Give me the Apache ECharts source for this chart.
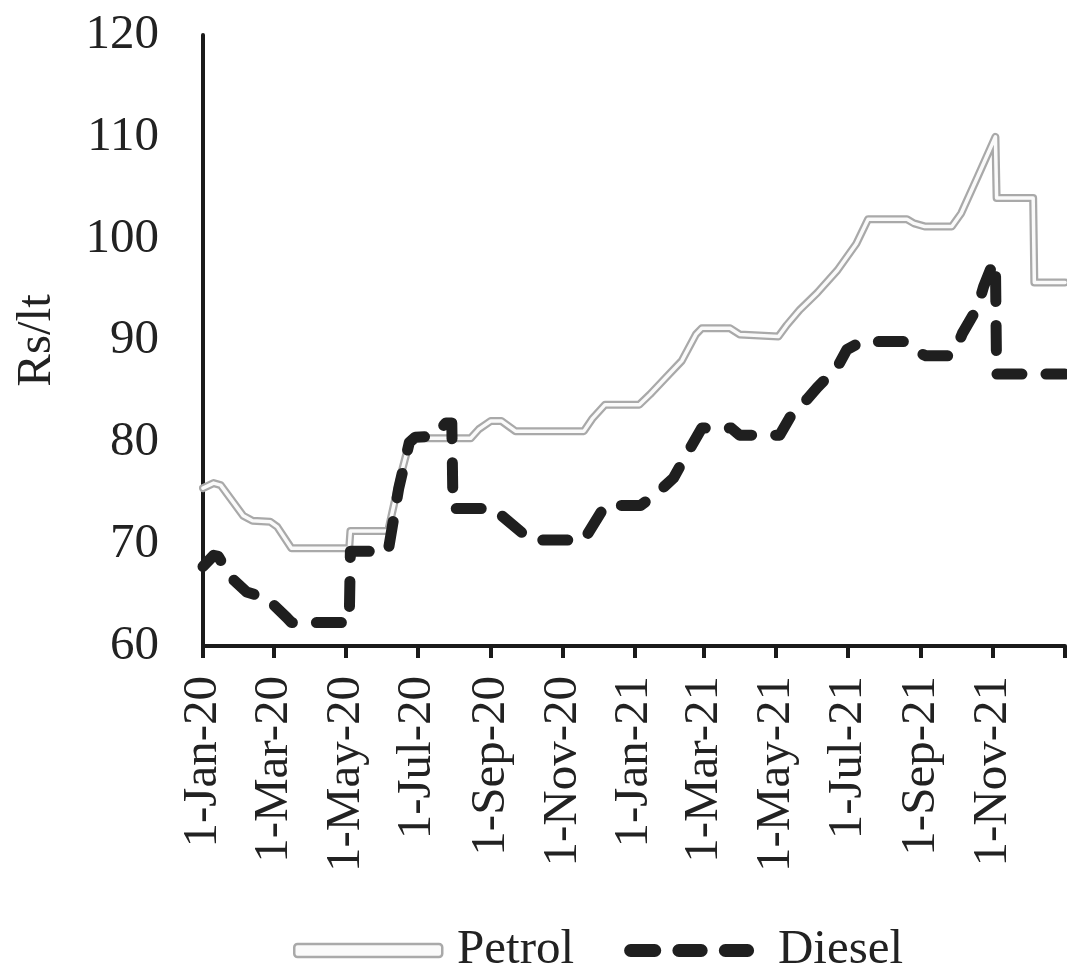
<!DOCTYPE html>
<html>
<head>
<meta charset="utf-8">
<title>Petrol and Diesel Prices</title>
<script src="https://cdn.jsdelivr.net/npm/echarts@6/dist/echarts.min.js"></script>
<style>
  html, body { margin: 0; padding: 0; background: #ffffff; }
  #chart { width: 1067px; height: 967px; }
</style>
</head>
<body>
<div id="chart"></div>
<script>
// Retail prices, Rs per litre
const petrolDates = ['2020-01-01','2020-01-10','2020-01-16','2020-02-04','2020-02-12','2020-02-27','2020-03-04','2020-03-16',
  '2020-05-04','2020-05-05','2020-06-06','2020-06-15','2020-06-24','2020-06-29','2020-08-15','2020-08-22','2020-09-01',
  '2020-09-10','2020-09-22','2020-11-19','2020-11-26','2020-12-07','2021-01-05','2021-01-14','2021-01-27','2021-02-10',
  '2021-02-22','2021-02-27','2021-03-23','2021-03-31','2021-05-03','2021-05-10','2021-05-21','2021-06-05','2021-06-22',
  '2021-07-08','2021-07-18','2021-08-20','2021-08-26','2021-09-04','2021-09-27','2021-10-05','2021-10-19','2021-11-03',
  '2021-11-04','2021-12-05','2021-12-06','2022-01-01'];
const petrolPrices = [75.5,76.0,75.8,72.8,72.3,72.2,71.7,69.6,
  69.6,71.3,71.3,76.0,80.0,80.4,80.4,81.3,82.1,
  82.1,81.1,81.1,82.3,83.7,83.7,84.7,86.3,88.0,
  90.6,91.2,91.2,90.6,90.4,91.5,93.0,94.7,96.9,
  99.5,101.9,101.9,101.5,101.2,101.2,102.5,106.1,110.0,
  104.0,104.0,95.7,95.7];

const dieselDates = ['2020-01-01','2020-01-10','2020-01-14','2020-01-24','2020-02-07','2020-02-24','2020-03-12','2020-03-16',
  '2020-05-04','2020-05-05','2020-06-06','2020-06-15','2020-06-24','2020-06-29','2020-07-15','2020-07-25','2020-07-30',
  '2020-07-31','2020-09-03','2020-10-05','2020-11-19','2020-12-07','2021-01-06','2021-01-20','2021-02-03','2021-02-15',
  '2021-02-27','2021-03-24','2021-03-31','2021-05-04','2021-05-13','2021-05-27','2021-06-05','2021-06-22','2021-06-30',
  '2021-07-11','2021-07-17','2021-08-18','2021-08-25','2021-09-05','2021-09-24','2021-09-30','2021-10-06','2021-10-19',
  '2021-10-24','2021-11-01','2021-11-03','2021-11-04','2022-01-01'];
const dieselPrices = [67.8,68.9,68.8,66.8,65.3,64.7,62.8,62.3,
  62.3,69.3,69.3,75.5,80.0,80.5,80.6,81.9,81.9,
  73.5,73.5,70.4,70.4,73.8,73.8,75.0,76.5,79.0,
  81.4,81.4,80.7,80.7,82.5,84.2,85.4,87.4,89.1,
  89.8,89.9,89.9,89.1,88.5,88.5,89.0,90.7,93.3,
  95.3,97.6,97.7,86.7,86.7];

// Axis ticks every two months; labelled ones exclude the closing tick
const tickDates = ['2020-01-01','2020-03-01','2020-05-01','2020-07-01','2020-09-01','2020-11-01',
  '2021-01-01','2021-03-01','2021-05-01','2021-07-01','2021-09-01','2021-11-01','2022-01-01'];
const labelDates = tickDates.slice(0, -1);
const monthNames = ['Jan','Feb','Mar','Apr','May','Jun','Jul','Aug','Sep','Oct','Nov','Dec'];

// Dates are plotted as day counts from the first day of 2020
const DAY = 86400000;
const ORIGIN = Date.UTC(2020, 0, 1);
function toDay(s) {
  const p = s.split('-').map(Number);
  return Math.round((Date.UTC(p[0], p[1] - 1, p[2]) - ORIGIN) / DAY);
}
function fmtDay(v) {
  const d = new Date(ORIGIN + Math.round(v) * DAY);
  return d.getUTCDate() + '-' + monthNames[d.getUTCMonth()] + '-' + String(d.getUTCFullYear()).slice(2);
}

const petrolData = petrolDates.map((d, i) => [toDay(d), petrolPrices[i]]);
const dieselData = dieselDates.map((d, i) => [toDay(d), dieselPrices[i]]);

const FONT = '"Liberation Serif", "DejaVu Serif", serif';
const INK = '#222222';
const FS = 49;

const chart = echarts.init(document.getElementById('chart'), null, { renderer: 'canvas' });
chart.setOption({
  animation: false,
  backgroundColor: '#ffffff',
  grid: { left: 203, right: 2, top: 35, bottom: 321 },
  legend: {
    left: 288,
    top: 921,
    itemWidth: 148,
    itemHeight: 13,
    itemGap: 50,
    formatter: (name) => '\u2009' + name,
    textStyle: { fontFamily: FONT, fontSize: FS, color: INK },
    data: [
      { name: 'Petrol', icon: 'roundRect',
        itemStyle: { color: '#fafafa', borderColor: '#a9a9a9', borderWidth: 2.5 } },
      { name: 'Diesel',
        icon: 'path://M7,0H33A7,7 0 0 1 33,14H7A7,7 0 0 1 7,0Z M59,0H83A7,7 0 0 1 83,14H59A7,7 0 0 1 59,0Z M109,0H133A7,7 0 0 1 133,14H109A7,7 0 0 1 109,0Z',
        itemStyle: { color: '#1f1f1f' } }
    ]
  },
  xAxis: {
    type: 'value',
    min: toDay('2020-01-01'),
    max: toDay('2022-01-01'),
    splitLine: { show: false },
    axisLine: { show: true, onZero: false, lineStyle: { color: '#1a1a1a', width: 4 } },
    axisTick: {
      show: true, length: 12, inside: false,
      lineStyle: { color: '#1a1a1a', width: 4 },
      customValues: tickDates.map(toDay)
    },
    axisLabel: {
      show: true,
      rotate: 90,
      margin: 30,
      fontFamily: FONT,
      fontSize: FS,
      color: INK,
      customValues: labelDates.map(toDay),
      formatter: (v) => fmtDay(v)
    }
  },
  yAxis: {
    type: 'value',
    min: 60,
    max: 120,
    interval: 10,
    name: 'Rs/lt',
    nameLocation: 'middle',
    nameGap: 141,
    nameTextStyle: { fontFamily: FONT, fontSize: FS, color: INK },
    splitLine: { show: false },
    axisLine: { show: true, onZero: false, lineStyle: { color: '#1a1a1a', width: 4 } },
    axisTick: { show: false },
    axisLabel: { margin: 44, fontFamily: FONT, fontSize: FS, color: INK }
  },
  series: [
    {
      name: 'Petrol',
      type: 'line',
      data: petrolData,
      showSymbol: false,
      symbol: 'none',
      lineStyle: { color: '#a9a9a9', width: 8, join: 'round', cap: 'round' },
      itemStyle: { color: '#a9a9a9' },
      z: 2
    },
    {
      name: 'PetrolCore',
      type: 'line',
      data: petrolData,
      showSymbol: false,
      symbol: 'none',
      lineStyle: { color: '#fafafa', width: 3.5, join: 'round', cap: 'round' },
      z: 3
    },
    {
      name: 'Diesel',
      type: 'line',
      data: dieselData,
      showSymbol: false,
      symbol: 'none',
      lineStyle: { color: '#1f1f1f', width: 11, type: [25, 24], cap: 'round', join: 'round' },
      itemStyle: { color: '#1f1f1f' },
      z: 4
    }
  ]
});
</script>
</body>
</html>
